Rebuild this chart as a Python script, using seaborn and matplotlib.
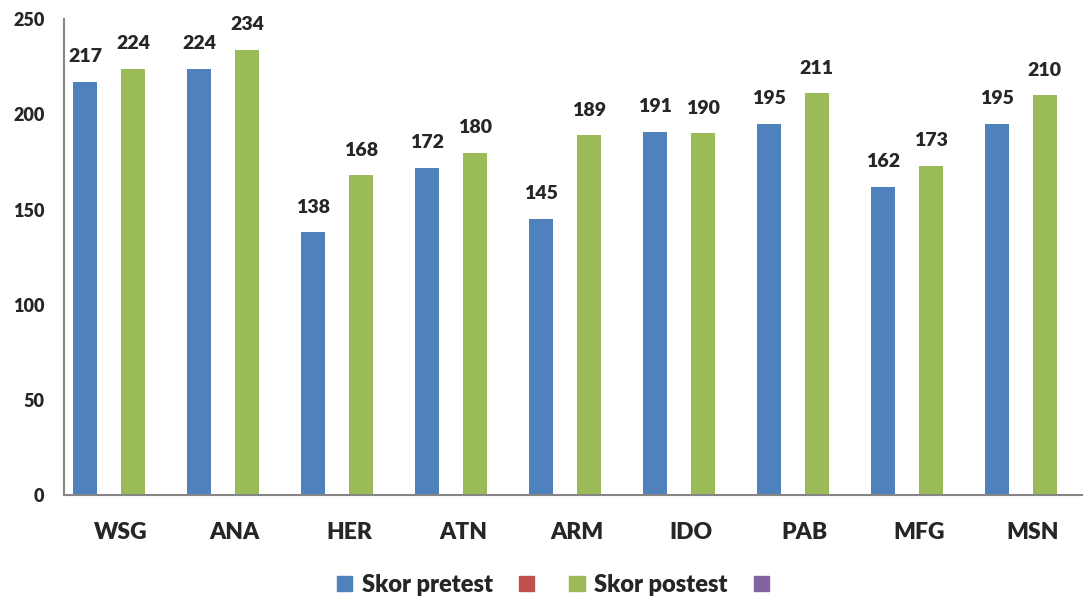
import pandas as pd
import matplotlib.pyplot as plt
import seaborn as sns
from matplotlib.patches import Patch

siswa = ["WSG", "ANA", "HER", "ATN", "ARM", "IDO", "PAB", "MFG", "MSN"]
skor_pretest = [217, 224, 138, 172, 145, 191, 195, 162, 195]
skor_postest = [224, 234, 168, 180, 189, 190, 211, 173, 210]
# the two empty series in the original chart (shown in the legend only)
seri_kosong = [0] * len(siswa)

seri = ["Skor pretest", "Seri 2", "Skor postest", "Seri 4"]
warna = ["#4F81BD", "#C0504D", "#9BBB59", "#8064A2"]

df = pd.DataFrame({
    "siswa": siswa * 4,
    "seri": [s for s in seri for _ in siswa],
    "skor": skor_pretest + seri_kosong + skor_postest + seri_kosong,
})

sns.set_style("white")
plt.rcParams["font.family"] = ["Lato", "DejaVu Sans"]
tebal = "heavy"

fig = plt.figure(figsize=(10.83, 6.01), dpi=100)
ax = fig.add_axes([0.059, 0.176, 0.941, 0.792])

sns.barplot(data=df, x="siswa", y="skor", hue="seri", hue_order=seri,
            palette=warna, saturation=1, width=0.842, linewidth=0,
            legend=False, ax=ax)

for i in (0, 2):
    ax.bar_label(ax.containers[i], padding=12, fontsize=14, fontweight=tebal)

ax.set_ylim(0, 250)
ax.set_xlim(-0.5, 8.44)
ax.set_yticks([0, 50, 100, 150, 200, 250])
ax.set_xlabel("")
ax.set_ylabel("")
ax.tick_params(axis="y", length=0, pad=14, labelsize=13)
ax.tick_params(axis="x", length=0, pad=19, labelsize=16.5)
for lbl in ax.get_xticklabels() + ax.get_yticklabels():
    lbl.set_fontweight(tebal)

for s in ["top", "right"]:
    ax.spines[s].set_visible(False)
for s in ["left", "bottom"]:
    ax.spines[s].set_color("#868686")
    ax.spines[s].set_linewidth(1.5)

handles = [Patch(color=c) for c in warna]
labels = ["Skor pretest", "", "Skor postest", ""]
fig.legend(handles, labels, loc="center", bbox_to_anchor=(0.515, 0.027),
           ncol=4, frameon=False, handlelength=0.65, handleheight=0.65,
           columnspacing=1.1, handletextpad=0.4,
           prop={"weight": tebal, "size": 17})

fig.savefig("out.png", dpi=100)
